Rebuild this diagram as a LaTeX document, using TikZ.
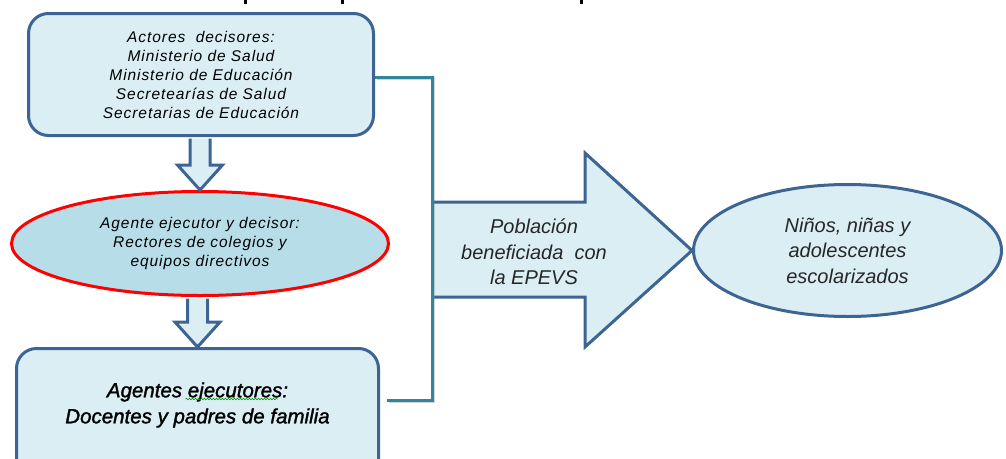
\documentclass[tikz,border=0pt]{standalone}
\usepackage{fontspec}
\setmainfont{Liberation Sans}
\usepackage{tikz}
\usetikzlibrary{shapes.geometric, calc, decorations.pathmorphing}
\usetikzlibrary{positioning}
\definecolor{boxfill}{HTML}{DBEEF4}
\definecolor{ovalfill}{HTML}{B7DEE8}
\definecolor{boxline}{HTML}{3D6594}
\definecolor{linkline}{HTML}{31859C}
\definecolor{arrowtext}{HTML}{262626}
\tikzstyle{actorbox} = [rectangle, rounded corners=20pt, draw=boxline, line width=3pt, fill=boxfill, text centered, align=center]
\tikzstyle{agentoval} = [ellipse, draw=red, line width=3pt, fill=ovalfill, align=center, inner sep=0pt]
\tikzstyle{targetoval} = [ellipse, draw=boxline, line width=3pt, fill=boxfill, align=center, inner sep=0pt]
\tikzstyle{blockarrow} = [draw=boxline, line width=3pt, line join=miter]
\tikzstyle{link} = [draw=linkline, line width=3pt]
\tikzstyle{smalltext} = [text=black, font=\fontsize{15.5}{19}\selectfont\itshape\addfontfeature{LetterSpace=6}]
\tikzstyle{bigtext} = [align=center, text=black, font=\fontsize{20.5}{26}\selectfont\itshape\addfontfeature{FakeBold=1.5}]
\tikzstyle{arrowlabel} = [align=center, text=arrowtext, font=\fontsize{20}{25.5}\selectfont\itshape]

% small block arrow from one node down to the next
\newcommand{\downblock}[2]{%
  \fill[boxfill] ($(#1.south -| #2.north)+(-10,1.5)$) -- ($(#2.north)+(-10,-25)$) -- ($(#2.north)+(-22.5,-25)$) -- (#2.north)
    -- ($(#2.north)+(22.5,-25)$) -- ($(#2.north)+(10,-25)$) -- ($(#1.south -| #2.north)+(10,1.5)$) -- cycle;
  \draw[blockarrow] ($(#1.south -| #2.north)+(-10,1.5)$) -- ($(#2.north)+(-10,-25)$) -- ($(#2.north)+(-22.5,-25)$) -- (#2.north)
    -- ($(#2.north)+(22.5,-25)$) -- ($(#2.north)+(10,-25)$) -- ($(#1.south -| #2.north)+(10,1.5)$);}

\begin{document}
\begin{tikzpicture}[x=1pt, y=-1pt, node distance=60pt]

        \useasboundingbox (0,0) rectangle (1006,458);
        \clip (0,0) rectangle (1006,458);

        % cut-off title
        \fill (244,0) rectangle (247,4);
        \fill (341,0) rectangle (344,4);
        \fill (580,0) rectangle (583,4);

        % Nodes
        \node (actores) [actorbox, smalltext, minimum width=345pt, minimum height=122pt] at (201,74.5)
            {Actores\ \ decisores:\\Ministerio de Salud\\Ministerio de Educación\\Secretearías de Salud\\Secretarias de Educación};
        \node (rectores) [agentoval, smalltext, minimum width=377pt, minimum height=104pt] at (200,243.5)
            {Agente ejecutor y decisor:\\Rectores de colegios y\\equipos directivos};
        \node (docentes) [actorbox, minimum width=362pt, minimum height=140pt] at (197.5,418.5) {};
        \node (docentestxt) [bigtext] at (197.5,405) {Agentes ejecutores:\\Docentes y padres de familia};
        \node (ninos) [targetoval, arrowlabel, minimum width=308pt, minimum height=132pt] at (847.5,250.5)
            {Niños, niñas y\\adolescentes\\escolarizados};

        % big arrow
        \fill[boxfill] (432,202) -- (585,202) -- (585,153) -- (ninos.west) -- (585,347) -- (585,297) -- (432,297) -- cycle;
        \draw[blockarrow] (432,202) -- (585,202) -- (585,153) -- (ninos.west) -- (585,347) -- (585,297) -- (432,297);
        \node (poblacion) [arrowlabel] at (534,252) {Población\\beneficiada\ \ con\\la EPEVS};

        % spelling mark
        \draw[green!60!black, line width=0.6pt, decorate, decoration={snake, amplitude=0.8pt, segment length=3pt}]
            ([xshift=-12pt,yshift=6pt]docentestxt.center) -- ++(92,0);

        % Arrows
        \downblock{actores}{rectores}
        \downblock{rectores}{docentes}
        \draw[link, gray, opacity=0.35, transform canvas={shift={(1.5pt,-1.5pt)}}] ([yshift=-2.5pt]actores.east) -- ++(57,0) |- ([xshift=7pt,yshift=18.5pt]docentes.east);
        \draw[link] ([yshift=-2.5pt]actores.east) -- ++(57,0) |- ([xshift=7pt,yshift=18.5pt]docentes.east);

\end{tikzpicture}
\end{document}
